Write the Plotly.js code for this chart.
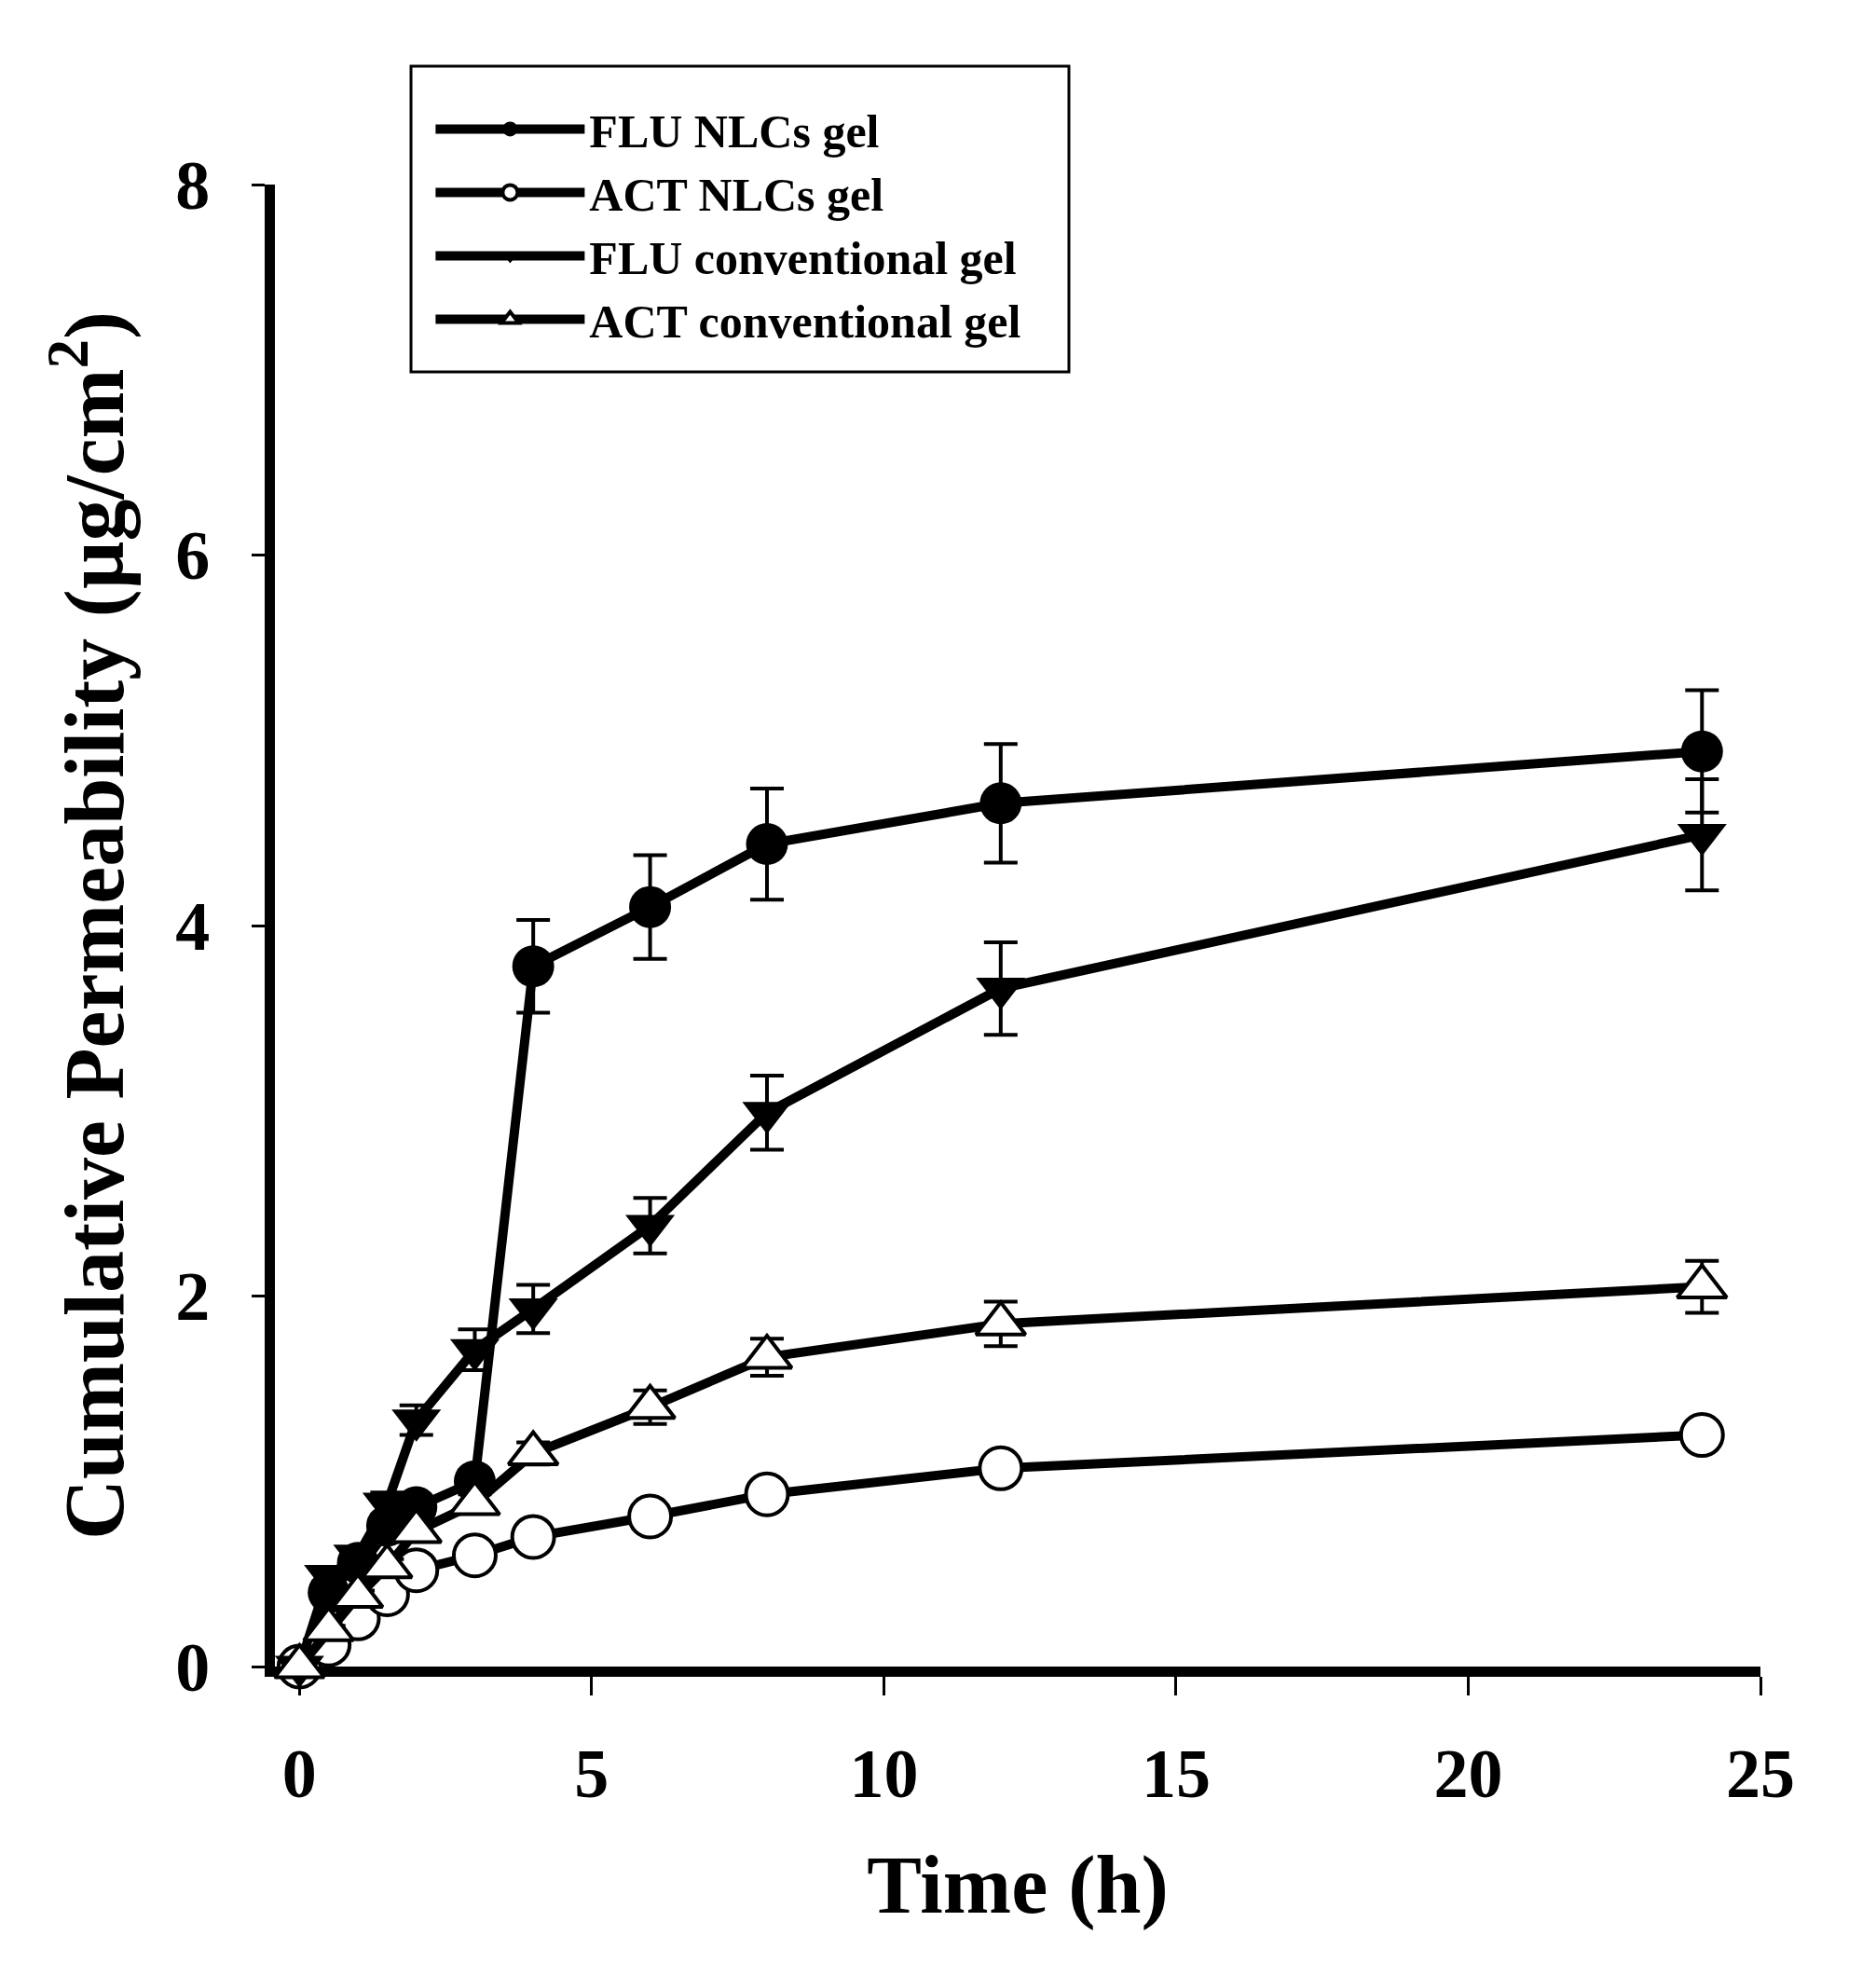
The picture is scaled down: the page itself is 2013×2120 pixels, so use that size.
<!DOCTYPE html>
<html>
<head>
<meta charset="utf-8">
<script src="https://cdn.plot.ly/plotly-3.0.1.min.js"></script>
<style>
  html, body { margin: 0; padding: 0; background: #ffffff; }
  #chart { width: 2013px; height: 2120px; }
</style>
</head>
<body>
<div id="chart"></div>
<script>
// 1. data (time in h, permeability in µg/cm2)
const timePoints = [0, 0.5, 1, 1.5, 2, 3, 4, 6, 8, 12, 24];

const fluNlcGel = [0, 0.4, 0.56, 0.76, 0.86, 1.0, 3.78, 4.1, 4.44, 4.66, 4.94];
const fluNlcErr = [0, 0.03, 0.04, 0.05, 0.05, 0.06, 0.25, 0.28, 0.3, 0.32, 0.33];

const actNlcGel = [0, 0.12, 0.26, 0.39, 0.52, 0.6, 0.7, 0.81, 0.93, 1.07, 1.25];
const actNlcErr = [0, 0.01, 0.02, 0.02, 0.02, 0.03, 0.03, 0.03, 0.03, 0.04, 0.04];

const fluConvGel = [0, 0.49, 0.6, 0.88, 1.33, 1.71, 1.93, 2.38, 2.99, 3.66, 4.49];
const fluConvErr = [0, 0.03, 0.04, 0.06, 0.08, 0.11, 0.13, 0.15, 0.2, 0.25, 0.3];

const actConvGel = [0, 0.2, 0.38, 0.54, 0.73, 0.88, 1.15, 1.4, 1.67, 1.85, 2.05];
const actConvErr = [0, 0.02, 0.03, 0.04, 0.05, 0.05, 0.06, 0.09, 0.1, 0.12, 0.14];

const seriesNames = [
  "FLU NLCs gel",
  "ACT NLCs gel",
  "FLU conventional gel",
  "ACT conventional gel",
];

const xTicks = [0, 5, 10, 15, 20, 25];
const yTicks = [0, 2, 4, 6, 8];

const FONT = "Liberation Serif, Times New Roman, serif";

// 2. one trace per formulation
function makeTrace(name, values, errors, symbol, filled, size) {
  return {
    x: timePoints,
    y: values,
    name: name,
    type: "scatter",
    mode: "lines+markers",
    cliponaxis: false,
    line: { color: "#000000", width: 10 },
    marker: {
      symbol: symbol,
      size: size,
      color: filled ? "#000000" : "#ffffff",
      line: { color: "#000000", width: filled ? 0 : 4 },
    },
    error_y: {
      type: "data",
      array: errors,
      visible: true,
      color: "#000000",
      thickness: 4,
      width: 18,
    },
  };
}

function drawChart() {
  const traces = [
    makeTrace(seriesNames[0], fluNlcGel, fluNlcErr, "circle", true, 45),
    makeTrace(seriesNames[1], actNlcGel, actNlcErr, "circle", false, 45),
    makeTrace(seriesNames[2], fluConvGel, fluConvErr, "triangle-down", true, 46),
    makeTrace(seriesNames[3], actConvGel, actConvErr, "triangle-up", false, 46),
  ];

  const layout = {
    width: 2013,
    height: 2120,
    margin: { l: 295, r: 124, t: 198, b: 332 },
    paper_bgcolor: "#ffffff",
    plot_bgcolor: "#ffffff",
    font: { family: FONT, color: "#000000" },
    showlegend: true,
    legend: {
      x: 0.105,
      y: 1.062,
      xanchor: "left",
      yanchor: "top",
      bgcolor: "rgba(0,0,0,0)",
      borderwidth: 0,
      itemwidth: 160,
      font: { family: FONT, size: 50, weight: 700, color: "#000000" },
    },
    xaxis: {
      range: [-0.42, 25],
      tickvals: xTicks,
      ticks: "outside",
      ticklen: 20,
      tickwidth: 3,
      tickcolor: "#000000",
      ticklabelstandoff: 20,
      showline: true,
      linewidth: 11,
      linecolor: "#000000",
      showgrid: false,
      zeroline: false,
      layer: "below traces",
      tickfont: { family: FONT, size: 74, weight: 700 },
      title: {
        text: "Time (h)",
        font: { family: FONT, size: 88, weight: 700 },
        standoff: 52,
      },
    },
    yaxis: {
      range: [0, 8],
      tickvals: yTicks,
      ticks: "outside",
      ticklen: 14,
      tickwidth: 3,
      tickcolor: "#000000",
      ticklabelstandoff: 30,
      showline: true,
      linewidth: 11,
      linecolor: "#000000",
      showgrid: false,
      zeroline: false,
      layer: "below traces",
      tickfont: { family: FONT, size: 74, weight: 700 },
      title: {
        text: "Cumulative Permeability (µg/cm<sup>2</sup>)",
        font: { family: FONT, size: 90, weight: 700 },
        standoff: 30,
      },
    },
    // legend frame
    shapes: [
      {
        type: "rect",
        xref: "paper",
        yref: "paper",
        x0: 0.0916,
        x1: 0.5345,
        y0: 0.8736,
        y1: 1.0799,
        line: { color: "#000000", width: 3 },
        fillcolor: "rgba(0,0,0,0)",
      },
    ],
  };

  Plotly.newPlot("chart", traces, layout, {
    displayModeBar: false,
    responsive: false,
  });
}

// 3. start
document.addEventListener("DOMContentLoaded", drawChart);
</script>
</body>
</html>
